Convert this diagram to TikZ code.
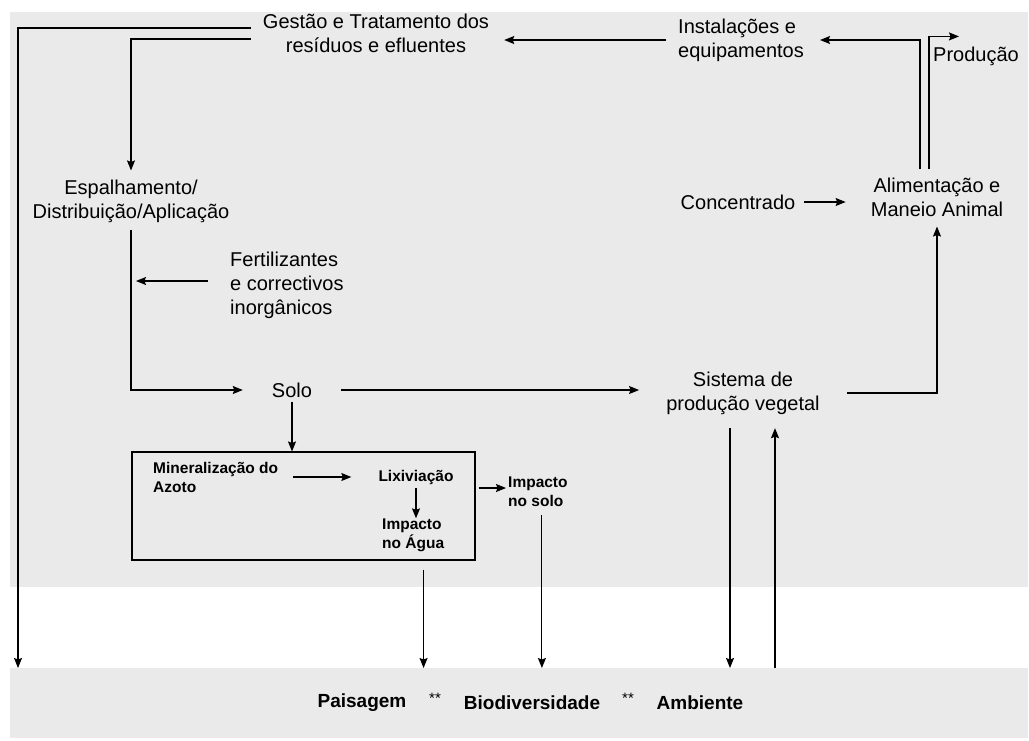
\documentclass[tikz,border=0pt]{standalone}
\usepackage{fontspec}
\setmainfont{Liberation Sans}
\usetikzlibrary{positioning,arrows,arrows.meta}
\definecolor{fundo}{HTML}{EAEAEA}

\begin{document}
\begin{tikzpicture}[x=1pt,y=-1pt,
   txt/.style={font=\fontsize{20}{24}\selectfont,align=center,inner sep=0pt},
   peq/.style={font=\fontsize{15.5}{19}\selectfont\bfseries,align=left,inner sep=0pt},
   baixo/.style={font=\fontsize{19}{22}\selectfont\bfseries,inner sep=0pt},
   ast/.style={font=\fontsize{15}{15}\selectfont,inner sep=0pt},
   seta/.style={-{Stealth[length=10pt,width=8pt,inset=1.5pt]},line width=1.1pt}]
   \useasboundingbox (0,0) rectangle (1029,740);
   % fundos
   \fill[fundo] (10,12) rectangle (1028,587);
   \fill[fundo] (10,668) rectangle (1028,738);
   \coordinate (base) at (0,668);
   \coordinate (esq) at (18,668);
   % nos
   \node[txt] (gestao) at (376,33) {Gestão e Tratamento dos\\resíduos e efluentes};
   \node[txt,align=left,anchor=west] (inst) at (678,40) {Instalações e\\equipamentos};
   \node[txt,anchor=west] (prod) at (933,56) {Produção};
   \node[txt] (alim) at (937,197) {Alimentação e\\Maneio Animal};
   \node[txt] (conc) at (738,202) {Concentrado};
   \node[txt] (espalh) at (131,201) {Espalhamento/\\Distribuição/Aplicação};
   \node[txt,align=left,anchor=west] (fert) at (230,285) {Fertilizantes\\e correctivos\\inorgânicos};
   \node[txt,inner xsep=29pt] (solo) at (292,390) {Solo};
   \node[txt,inner xsep=27pt,inner ysep=13.6pt] (sist) at (743,393) {Sistema de\\produção vegetal};
   \node[draw,line width=1.1pt,minimum width=343pt,minimum height=108pt,inner sep=0pt] (caixa) at (303.5,506) {};
   \node[peq,anchor=west] (miner) at (153,477) {Mineralização do\\Azoto};
   \node[peq] (lix) at (416,477) {Lixiviação};
   \node[peq,anchor=west] (agua) at (382,535) {Impacto\\no Água};
   \node[peq,anchor=west] (isolo) at (508,492) {Impacto\\no solo};
   \node[baixo] (paisagem) at (362,703) {Paisagem};
   \node[ast] (ast1) at (435,698) {**};
   \node[baixo] (biodiv) at (532,703) {Biodiversidade};
   \node[ast] (ast2) at (628,698) {**};
   \node[baixo] (ambiente) at (700,703) {Ambiente};
   % ligacoes
   \draw[seta] ([shift={(-12pt,5pt)}]gestao.west) -| (esq);
   \draw[seta] ([shift={(-12pt,-6pt)}]gestao.west) -| ([yshift=9pt]espalh.north);
   \draw[seta] ([yshift=-7pt]espalh.south) |- (solo.west);
   \draw[seta] ([shift={(-22pt,4pt)}]fert.west) -- ([shift={(5pt,4pt)}]fert.west -| espalh.south);
   \draw[seta] (solo.east) -- (solo.east -| sist.west);
   \draw[seta] ([yshift=-4pt]solo.south) -- (solo.south |- caixa.north);
   \draw[seta] ([xshift=15pt]miner.east) -- ([xshift=-27pt]miner.east -| lix.west);
   \draw[seta] ([yshift=-3.5pt]lix.south) -- (lix.south |- agua.north);
   \draw[seta] ([shift={(3pt,4pt)}]caixa.east |- isolo.west) -- ([shift={(-2pt,4pt)}]isolo.west);
   \draw[seta] ([shift={(-52pt,-9pt)}]caixa.south east) -- ([xshift=-52pt]caixa.south east |- base);
   \draw[seta] ([shift={(4pt,-8pt)}]isolo.south) -- ([xshift=4pt]isolo.south |- base);
   \draw[seta] ([xshift=-13pt]sist.south) -- ([xshift=-13pt]sist.south |- base);
   \draw[seta] ([xshift=32pt]sist.south |- base) -- ([xshift=32pt]sist.south);
   \draw[seta] (sist.east) -| ([yshift=-10pt]alim.south);
   \draw[seta] ([xshift=9pt]conc.east) -- ([xshift=-25pt]alim.west |- conc.east);
   \draw[seta] ([shift={(-17pt,8pt)}]alim.north) |- ([xshift=16pt]inst.east);
   \draw[seta] ([shift={(-8pt,8pt)}]alim.north) |- ([shift={(26pt,10pt)}]prod.north west);
   \draw[seta] ([xshift=-12pt]inst.west) -- ([xshift=15pt]gestao.east |- inst.west);
\end{tikzpicture}
\end{document}
